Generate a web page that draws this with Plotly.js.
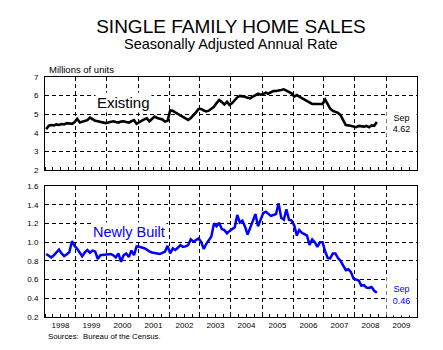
<!DOCTYPE html>
<html>
<head>
<meta charset="utf-8">
<script src="https://cdn.plot.ly/plotly-3.0.1.min.js"></script>
<style>html,body{margin:0;padding:0;background:#fff;}#chart{width:443px;height:350px;}</style>
</head>
<body>
<div id="chart"></div>
<script>
// Monthly data, Jan 1998 - Sep 2008 (millions of units, SAAR)
var startYear = 1998;
var existing = [
  4.20, 4.38, 4.42, 4.40, 4.45, 4.42, 4.47, 4.45, 4.52, 4.50, 4.48, 4.58,
  4.75, 4.55, 4.58, 4.62, 4.68, 4.82, 4.72, 4.65, 4.62, 4.58, 4.55, 4.52,
  4.55, 4.58, 4.62, 4.58, 4.55, 4.60, 4.62, 4.58, 4.55, 4.62, 4.68, 4.48,
  4.58, 4.65, 4.72, 4.78, 4.62, 4.75, 4.87, 4.80, 4.76, 4.72, 4.60, 4.65,
  5.20, 5.18, 5.10, 5.02, 4.95, 4.88, 4.78, 4.69, 4.80, 4.93, 5.10, 5.28,
  5.28, 5.20, 5.15, 5.19, 5.30, 5.40, 5.60, 5.76, 5.65, 5.52, 5.67, 5.50,
  5.60, 5.78, 5.90, 5.98, 5.97, 5.94, 5.88, 5.85, 5.95, 6.03, 6.10, 6.05,
  6.08, 6.16, 6.10, 6.18, 6.24, 6.25, 6.26, 6.30, 6.34, 6.28, 6.20, 6.12,
  5.95, 6.03, 5.95, 5.87, 5.76, 5.67, 5.60, 5.55, 5.55, 5.55, 5.52, 5.55,
  5.78, 5.55, 5.30, 5.18, 5.12, 5.07, 4.95, 4.72, 4.42, 4.40, 4.37, 4.32,
  4.30, 4.37, 4.35, 4.33, 4.37, 4.30, 4.40, 4.38, 4.58
];
var newlyBuilt = [
  0.873, 0.85, 0.837, 0.86, 0.89, 0.92, 0.88, 0.85, 0.87, 0.895, 1.01, 0.96,
  0.93, 0.88, 0.85, 0.89, 0.915, 0.887, 0.91, 0.90, 0.82, 0.86, 0.862, 0.862,
  0.865, 0.873, 0.86, 0.837, 0.88, 0.79, 0.86, 0.88, 0.84, 0.91, 0.86, 0.955,
  0.95, 0.945, 0.935, 0.92, 0.90, 0.89, 0.887, 0.88, 0.873, 0.885, 0.90, 0.96,
  0.88, 0.934, 0.916, 0.94, 0.969, 0.95, 0.955, 0.969, 1.03, 1.004, 1.02, 1.04,
  1.004, 0.926, 0.98, 1.02, 1.06, 1.20, 1.17, 1.207, 1.14, 1.13, 1.094, 1.12,
  1.14, 1.16, 1.29, 1.21, 1.23, 1.165, 1.08, 1.16, 1.22, 1.30, 1.17, 1.24,
  1.31, 1.325, 1.30, 1.28, 1.29, 1.30, 1.415, 1.26, 1.24, 1.35, 1.24, 1.23,
  1.18, 1.07, 1.13, 1.10, 1.085, 1.07, 0.97, 1.03, 1.00, 0.95, 1.00, 1.00,
  0.90, 0.83, 0.826, 0.88, 0.88, 0.83, 0.80, 0.75, 0.70, 0.71, 0.68, 0.61,
  0.60, 0.59, 0.535, 0.54, 0.515, 0.51, 0.52, 0.48, 0.46
];
var lastLabelExisting = "Sep<br>4.62";
var lastLabelNew = "Sep<br>0.46";

function monthDates(n) {
  var out = [];
  for (var i = 0; i < n; i++) {
    var y = startYear + Math.floor(i / 12);
    var m = (i % 12) + 1;
    out.push(y + "-" + (m < 10 ? "0" + m : m) + "-15");
  }
  return out;
}
var dates = monthDates(existing.length);

var FONT = 'Arial, "Liberation Sans", sans-serif';
var GRID = '4px,3px';

var xCommon = {
  type: 'date',
  range: ['1998-01-01', '2010-01-01'],
  tick0: '1998-01-01',
  dtick: 'M12',
  tickformat: '%Y',
  ticklabelmode: 'period',
  ticks: 'inside',
  ticklen: 3,
  tickcolor: '#000',
  showgrid: true,
  gridcolor: '#000',
  gridwidth: 1,
  griddash: GRID,
  showline: true,
  linecolor: '#000',
  linewidth: 1,
  mirror: true,
  zeroline: false,
  tickfont: {family: FONT, size: 8, color: '#000'},
  minor: {dtick: 'M3', tick0: '1998-01-01', ticks: 'inside', ticklen: 3, tickcolor: '#000', showgrid: false}
};

var yCommon = {
  ticks: '',
  ticklabelstandoff: 4,
  showgrid: true,
  gridcolor: '#000',
  gridwidth: 1,
  griddash: GRID,
  showline: true,
  linecolor: '#000',
  linewidth: 1,
  mirror: true,
  zeroline: false,
  tickfont: {family: FONT, size: 8, color: '#000'}
};

var traces = [
  {x: dates, y: existing, xaxis: 'x', yaxis: 'y', type: 'scatter', mode: 'lines',
   line: {color: '#000000', width: 2.6}, hoverinfo: 'skip'},
  {x: dates.slice(0, newlyBuilt.length), y: newlyBuilt, xaxis: 'x2', yaxis: 'y2', type: 'scatter', mode: 'lines',
   line: {color: '#0000ff', width: 2.5}, hoverinfo: 'skip'}
];

var layout = {
  width: 443, height: 350,
  margin: {l: 45, r: 26, t: 77, b: 33},
  paper_bgcolor: '#fff', plot_bgcolor: '#fff',
  showlegend: false,
  font: {family: FONT, color: '#000'},
  title: {text: 'SINGLE FAMILY HOME SALES', font: {family: FONT, size: 19, color: '#000'},
          x: 0.5, xref: 'paper', xanchor: 'center', y: 1 - 26.5 / 350, yref: 'container', yanchor: 'middle'},
  xaxis: Object.assign({}, xCommon, {anchor: 'y', showticklabels: false}),
  yaxis: Object.assign({}, yCommon, {domain: [0.6125, 1], range: [2, 7], dtick: 1, tick0: 2}),
  xaxis2: Object.assign({}, xCommon, {anchor: 'y2', showticklabels: true}),
  yaxis2: Object.assign({}, yCommon, {domain: [0, 0.5458], range: [0.2, 1.6], dtick: 0.2, tick0: 0.2, tickformat: '.1f'}),
  annotations: [
    {text: 'Seasonally Adjusted Annual Rate', xref: 'paper', yref: 'paper', x: 0.5, y: (317 - 44) / 240,
     xanchor: 'center', yanchor: 'middle', showarrow: false, font: {family: FONT, size: 14.5, color: '#000'}},
    {text: 'Millions of units', xref: 'paper', yref: 'paper', x: 0.006, y: (317 - 69.5) / 240,
     xanchor: 'left', yanchor: 'middle', showarrow: false, font: {family: FONT, size: 9.5, color: '#000'}},
    {text: 'Existing', xref: 'paper', yref: 'paper', x: (123.5 - 45) / 372, y: (317 - 102.5) / 240,
     xanchor: 'center', yanchor: 'middle', showarrow: false, bgcolor: '#fff', borderpad: 1,
     font: {family: FONT, size: 15, color: '#000'}},
    {text: 'Newly Built', xref: 'paper', yref: 'paper', x: (129 - 45) / 372, y: (317 - 232) / 240,
     xanchor: 'center', yanchor: 'middle', showarrow: false, bgcolor: '#fff', borderpad: 1,
     font: {family: FONT, size: 14.5, color: '#0000ff'}},
    {text: lastLabelExisting, xref: 'paper', yref: 'paper', x: (401.5 - 45) / 372, y: (317 - 123) / 240,
     xanchor: 'center', yanchor: 'middle', showarrow: false, bgcolor: '#fff', borderpad: 0, width: 29, height: 25,
     font: {family: FONT, size: 9, color: '#000'}},
    {text: lastLabelNew, xref: 'paper', yref: 'paper', x: (401.5 - 45) / 372, y: (317 - 295) / 240,
     xanchor: 'center', yanchor: 'middle', showarrow: false, bgcolor: '#fff', borderpad: 0, width: 29, height: 40,
     font: {family: FONT, size: 9, color: '#0000ff'}},
    {text: 'Sources:  Bureau of the Census.', xref: 'paper', yref: 'paper', x: 0.002, y: (317 - 336) / 240,
     xanchor: 'left', yanchor: 'middle', showarrow: false, font: {family: FONT, size: 7.8, color: '#000'}}
  ]
};

Plotly.newPlot('chart', traces, layout, {displayModeBar: false, staticPlot: true});
</script>
</body>
</html>
